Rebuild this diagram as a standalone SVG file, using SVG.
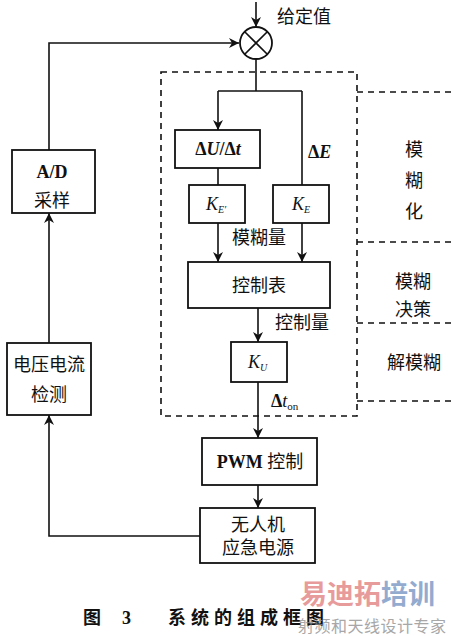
<svg xmlns="http://www.w3.org/2000/svg" width="452" height="636" viewBox="0 0 452 636">
<defs>
<style>
.box{fill:#fff;stroke:#111;stroke-width:1.8}
.ln{fill:none;stroke:#111;stroke-width:1.6}
.dash{fill:none;stroke:#111;stroke-width:1.6;stroke-dasharray:6,5}
.t{font-family:"Liberation Serif","Noto Sans CJK SC",serif;font-size:18px;fill:#111;text-anchor:middle;dominant-baseline:central}
.tl{font-family:"Liberation Serif","Noto Sans CJK SC",serif;font-size:18px;fill:#111;dominant-baseline:central}
.m{font-family:"Liberation Serif",serif;font-weight:bold}
.i{font-family:"Liberation Serif",serif;font-style:italic}
</style>
<marker id="ar" viewBox="0 0 10 12" refX="10" refY="6" markerWidth="10" markerHeight="12" markerUnits="userSpaceOnUse" orient="auto">
<path d="M0,1 L10,6 L0,11 L3,6 Z" fill="#111"/>
</marker>
</defs>
<rect width="452" height="636" fill="#fff"/>

<g id="connectors">
<path class="ln" d="M256,2 V27" marker-end="url(#ar)"/>
<path class="ln" d="M49,343 V213" marker-end="url(#ar)"/>
<path class="ln" d="M49,150 V43 H239" marker-end="url(#ar)"/>
<path class="ln" d="M256,59 V91"/>
<path class="ln" d="M218,91 H302"/>
<path class="ln" d="M218,91 V130" marker-end="url(#ar)"/>
<path class="ln" d="M302,91 V185"/>
<path class="ln" d="M218,168 V185"/>
<path class="ln" d="M218,223 V262" marker-end="url(#ar)"/>
<path class="ln" d="M302,223 V262" marker-end="url(#ar)"/>
<path class="ln" d="M258,308 V342" marker-end="url(#ar)"/>
<path class="ln" d="M258,382 V438" marker-end="url(#ar)"/>
<path class="ln" d="M258,485 V508" marker-end="url(#ar)"/>
<path class="ln" d="M200,536 H49 V415" marker-end="url(#ar)"/>
</g>

<g id="fuzzy-region">
<path class="dash" d="M161,72 H357 V416 H161 Z"/>
<path class="dash" d="M357,92 H452 M357,242 H452 M357,323 H452 M357,401 H452"/>
<text class="t" x="414" y="150">模</text>
<text class="t" x="414" y="181">糊</text>
<text class="t" x="414" y="212">化</text>
<text class="t" x="413" y="282">模糊</text>
<text class="t" x="413" y="310">决策</text>
<text class="t" x="414" y="363">解模糊</text>
</g>

<g id="sum">
<circle cx="256" cy="43" r="16" fill="#fff" stroke="#111" stroke-width="1.8"/>
<path class="ln" d="M244.7,31.7 L267.3,54.3 M267.3,31.7 L244.7,54.3"/>
<text class="tl" x="277" y="17">给定值</text>
</g>

<g id="du-dt">
<rect class="box" x="175" y="130" width="85" height="38"/>
<text class="t m" x="218" y="149">Δ<tspan font-style="italic">U</tspan>/Δ<tspan font-style="italic">t</tspan></text>
</g>
<text class="tl m" x="308" y="152">Δ<tspan font-style="italic">E</tspan></text>

<g id="ke-prime">
<rect class="box" x="189" y="185" width="56" height="38"/>
<text class="tl" x="206" y="204"><tspan class="i">K</tspan><tspan font-size="10" dy="5" class="i">E′</tspan></text>
</g>
<g id="ke">
<rect class="box" x="273" y="185" width="56" height="38"/>
<text class="tl" x="292" y="204"><tspan class="i">K</tspan><tspan font-size="10" dy="5" class="i">E</tspan></text>
</g>
<text class="t" x="259" y="238">模糊量</text>

<g id="control-table">
<rect class="box" x="188" y="262" width="142" height="46"/>
<text class="t" x="259" y="286">控制表</text>
</g>
<text class="tl" x="275" y="323">控制量</text>

<g id="ku">
<rect class="box" x="231" y="342" width="56" height="40"/>
<text class="tl" x="248" y="362"><tspan class="i">K</tspan><tspan font-size="10" dy="5" class="i">U</tspan></text>
</g>
<text class="tl" x="271" y="401"><tspan class="m">Δ</tspan><tspan class="i">t</tspan><tspan font-size="11" dy="5">on</tspan></text>

<g id="pwm">
<rect class="box" x="202" y="438" width="115" height="47"/>
<text class="t" x="260" y="462"><tspan class="m">PWM</tspan> 控制</text>
</g>

<g id="power">
<rect class="box" x="200" y="508" width="115" height="55"/>
<text class="t" x="258" y="525">无人机</text>
<text class="t" x="258" y="548">应急电源</text>
</g>

<g id="ad">
<rect class="box" x="12" y="150" width="83" height="63"/>
<text class="t m" x="52" y="172">A/D</text>
<text class="t" x="52" y="201">采样</text>
</g>

<g id="detect">
<rect class="box" x="7" y="343" width="84" height="72"/>
<text class="t" x="49" y="365">电压电流</text>
<text class="t" x="49" y="395">检测</text>
</g>

<g id="caption">
<text class="tl" x="83" y="618" font-size="24" font-weight="bold">图</text>
<text class="tl" x="122" y="618" font-size="24" font-weight="bold">3</text>
<text class="tl" x="168" y="618" font-size="24" font-weight="bold" letter-spacing="5">系统的组成框图</text>
</g>
<g id="watermark" opacity="0.75">
<text x="300" y="604" font-family="'Noto Sans CJK SC',sans-serif" font-size="27" font-weight="bold" fill="#e07a7a">易迪拓<tspan fill="#6f8fc0">培训</tspan></text>
<text x="298" y="632" font-family="'Noto Sans CJK SC',sans-serif" font-size="16" fill="#8a8a8a" letter-spacing="0.5">射频和天线设计专家</text>
</g>
</svg>
